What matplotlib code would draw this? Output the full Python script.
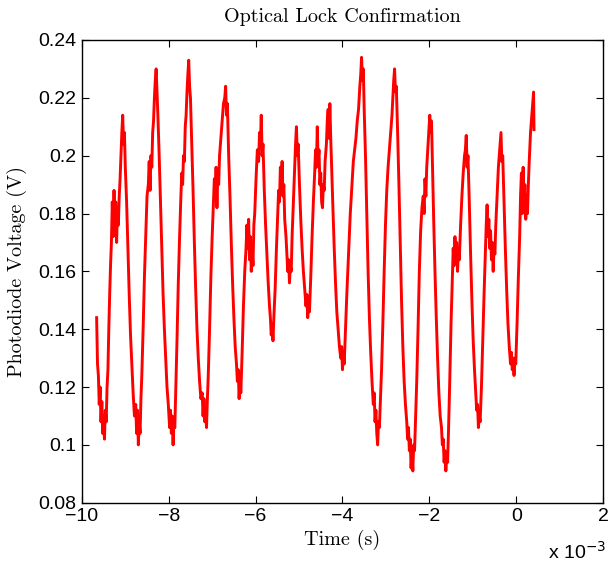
import matplotlib
matplotlib.use("Agg")
import matplotlib.pyplot as plt

fringe_1 = [
    (-9.66, 0.144), (-9.64, 0.128), (-9.62, 0.124), (-9.60, 0.114), (-9.58, 0.120),
    (-9.56, 0.108), (-9.54, 0.115), (-9.52, 0.104), (-9.50, 0.110), (-9.48, 0.102),
    (-9.46, 0.112), (-9.44, 0.108), (-9.42, 0.120), (-9.40, 0.126), (-9.38, 0.140),
    (-9.36, 0.152), (-9.34, 0.162), (-9.32, 0.170), (-9.30, 0.184), (-9.28, 0.172),
    (-9.26, 0.188), (-9.24, 0.174), (-9.22, 0.184), (-9.20, 0.170), (-9.18, 0.182),
    (-9.16, 0.176), (-9.14, 0.186), (-9.12, 0.192), (-9.10, 0.200), (-9.08, 0.208),
    (-9.06, 0.214), (-9.04, 0.204), (-9.02, 0.208), (-9.00, 0.196), (-8.97, 0.184),
    (-8.94, 0.168), (-8.91, 0.152), (-8.88, 0.138), (-8.85, 0.128), (-8.82, 0.118),
    (-8.79, 0.110), (-8.76, 0.114), (-8.74, 0.104), (-8.72, 0.112), (-8.70, 0.100),
    (-8.68, 0.108), (-8.66, 0.104), (-8.64, 0.116), (-8.62, 0.124), (-8.59, 0.140),
    (-8.56, 0.158), (-8.53, 0.172), (-8.50, 0.186), (-8.47, 0.190), (-8.45, 0.198),
    (-8.43, 0.188), (-8.41, 0.200), (-8.39, 0.196), (-8.37, 0.208), (-8.35, 0.212),
    (-8.33, 0.220), (-8.31, 0.226), (-8.29, 0.230), (-8.27, 0.222), (-8.25, 0.214),
]
fringe_2 = [
    (-8.22, 0.200), (-8.19, 0.184), (-8.16, 0.168), (-8.13, 0.152), (-8.10, 0.140),
    (-8.07, 0.130), (-8.04, 0.120), (-8.01, 0.114), (-7.98, 0.106), (-7.96, 0.112),
    (-7.94, 0.104), (-7.92, 0.110), (-7.90, 0.100), (-7.88, 0.108), (-7.86, 0.106),
    (-7.84, 0.118), (-7.81, 0.136), (-7.78, 0.156), (-7.75, 0.172), (-7.72, 0.186),
    (-7.70, 0.194), (-7.68, 0.190), (-7.66, 0.200), (-7.64, 0.198), (-7.62, 0.210),
    (-7.60, 0.214), (-7.58, 0.222), (-7.56, 0.228), (-7.54, 0.233), (-7.52, 0.224),
    (-7.50, 0.220), (-7.47, 0.204), (-7.44, 0.188), (-7.41, 0.170), (-7.38, 0.154),
    (-7.35, 0.140), (-7.32, 0.130), (-7.29, 0.122), (-7.26, 0.116), (-7.23, 0.118),
    (-7.21, 0.110), (-7.19, 0.116), (-7.17, 0.108), (-7.15, 0.112), (-7.13, 0.106),
    (-7.11, 0.116), (-7.09, 0.124), (-7.06, 0.140), (-7.03, 0.158), (-7.00, 0.172),
    (-6.97, 0.184), (-6.95, 0.192), (-6.93, 0.186), (-6.91, 0.196), (-6.89, 0.182),
    (-6.87, 0.194), (-6.85, 0.190), (-6.83, 0.200), (-6.80, 0.206), (-6.77, 0.212),
    (-6.74, 0.218), (-6.71, 0.220), (-6.69, 0.224), (-6.67, 0.214), (-6.65, 0.218),
]
fringe_3 = [
    (-6.62, 0.200), (-6.59, 0.186), (-6.56, 0.170), (-6.53, 0.156), (-6.50, 0.144),
    (-6.47, 0.134), (-6.44, 0.128), (-6.42, 0.122), (-6.40, 0.126), (-6.38, 0.116),
    (-6.36, 0.122), (-6.34, 0.118), (-6.31, 0.132), (-6.28, 0.148), (-6.25, 0.160),
    (-6.22, 0.168), (-6.20, 0.176), (-6.18, 0.168), (-6.16, 0.178), (-6.14, 0.164),
    (-6.12, 0.172), (-6.10, 0.160), (-6.08, 0.168), (-6.06, 0.162), (-6.04, 0.176),
    (-6.02, 0.180), (-5.99, 0.192), (-5.96, 0.202), (-5.93, 0.198), (-5.91, 0.208),
    (-5.89, 0.204), (-5.87, 0.214), (-5.85, 0.200), (-5.83, 0.204), (-5.80, 0.188),
    (-5.77, 0.176), (-5.74, 0.166), (-5.71, 0.156), (-5.68, 0.148), (-5.66, 0.144),
    (-5.64, 0.138), (-5.62, 0.142), (-5.60, 0.136), (-5.58, 0.144), (-5.55, 0.154),
    (-5.52, 0.168), (-5.49, 0.180), (-5.47, 0.188), (-5.45, 0.184), (-5.43, 0.196),
    (-5.41, 0.188), (-5.39, 0.198), (-5.37, 0.186), (-5.35, 0.190), (-5.33, 0.178),
    (-5.30, 0.172), (-5.28, 0.166), (-5.26, 0.160), (-5.24, 0.164), (-5.22, 0.156),
    (-5.20, 0.162), (-5.18, 0.160), (-5.16, 0.172), (-5.13, 0.184), (-5.10, 0.196),
    (-5.08, 0.204), (-5.06, 0.210), (-5.04, 0.200), (-5.02, 0.204),
]
fringe_4 = [
    (-4.99, 0.190), (-4.96, 0.178), (-4.93, 0.168), (-4.90, 0.160), (-4.87, 0.154),
    (-4.84, 0.148), (-4.82, 0.152), (-4.80, 0.144), (-4.78, 0.150), (-4.76, 0.146),
    (-4.73, 0.158), (-4.70, 0.172), (-4.67, 0.184), (-4.64, 0.194), (-4.62, 0.202),
    (-4.60, 0.196), (-4.58, 0.210), (-4.56, 0.198), (-4.54, 0.202), (-4.52, 0.190),
    (-4.50, 0.194), (-4.48, 0.184), (-4.46, 0.182), (-4.44, 0.190), (-4.42, 0.188),
    (-4.40, 0.198), (-4.37, 0.204), (-4.35, 0.212), (-4.33, 0.216), (-4.31, 0.206),
    (-4.29, 0.218), (-4.27, 0.206), (-4.25, 0.196), (-4.22, 0.182), (-4.19, 0.168),
    (-4.16, 0.156), (-4.13, 0.146), (-4.10, 0.140), (-4.07, 0.134), (-4.04, 0.130),
    (-4.02, 0.134), (-4.00, 0.126), (-3.98, 0.132), (-3.96, 0.128), (-3.93, 0.140),
    (-3.90, 0.152), (-3.86, 0.166), (-3.82, 0.180), (-3.78, 0.190), (-3.75, 0.198),
    (-3.72, 0.202), (-3.69, 0.206), (-3.66, 0.212), (-3.63, 0.216), (-3.60, 0.224),
    (-3.58, 0.228), (-3.56, 0.234), (-3.54, 0.226), (-3.52, 0.230), (-3.50, 0.216),
]
fringe_5 = [
    (-3.47, 0.200), (-3.44, 0.180), (-3.41, 0.160), (-3.38, 0.144), (-3.35, 0.132),
    (-3.32, 0.122), (-3.29, 0.114), (-3.27, 0.118), (-3.25, 0.108), (-3.23, 0.112),
    (-3.21, 0.104), (-3.19, 0.100), (-3.17, 0.108), (-3.15, 0.106), (-3.13, 0.114),
    (-3.10, 0.126), (-3.07, 0.142), (-3.04, 0.160), (-3.01, 0.176), (-2.98, 0.188),
    (-2.95, 0.196), (-2.92, 0.202), (-2.89, 0.208), (-2.86, 0.214), (-2.84, 0.220),
    (-2.82, 0.226), (-2.80, 0.230), (-2.78, 0.222), (-2.76, 0.224), (-2.73, 0.208),
    (-2.70, 0.190), (-2.67, 0.170), (-2.64, 0.150), (-2.61, 0.134), (-2.58, 0.122),
    (-2.55, 0.114), (-2.52, 0.108), (-2.50, 0.102), (-2.48, 0.106), (-2.46, 0.098),
    (-2.44, 0.102), (-2.42, 0.092), (-2.40, 0.098), (-2.38, 0.091), (-2.36, 0.100),
    (-2.34, 0.098), (-2.32, 0.108), (-2.29, 0.122), (-2.26, 0.140), (-2.23, 0.160),
    (-2.20, 0.174), (-2.17, 0.182), (-2.14, 0.186), (-2.12, 0.180), (-2.10, 0.192),
    (-2.08, 0.186), (-2.06, 0.196), (-2.03, 0.204), (-2.01, 0.210), (-1.99, 0.214),
    (-1.97, 0.208), (-1.95, 0.212), (-1.93, 0.198),
]
fringe_6 = [
    (-1.90, 0.178), (-1.87, 0.160), (-1.84, 0.144), (-1.81, 0.130), (-1.78, 0.118),
    (-1.75, 0.110), (-1.72, 0.106), (-1.70, 0.100), (-1.68, 0.102), (-1.66, 0.094),
    (-1.64, 0.098), (-1.62, 0.091), (-1.60, 0.096), (-1.58, 0.094), (-1.56, 0.104),
    (-1.53, 0.122), (-1.50, 0.142), (-1.47, 0.158), (-1.45, 0.168), (-1.43, 0.162),
    (-1.41, 0.172), (-1.39, 0.164), (-1.37, 0.170), (-1.35, 0.160), (-1.33, 0.168),
    (-1.31, 0.164), (-1.28, 0.176), (-1.25, 0.186), (-1.22, 0.194), (-1.19, 0.200),
    (-1.17, 0.202), (-1.15, 0.207), (-1.13, 0.196), (-1.11, 0.200), (-1.08, 0.184),
    (-1.05, 0.166), (-1.02, 0.150), (-0.99, 0.136), (-0.96, 0.126), (-0.93, 0.118),
    (-0.91, 0.112), (-0.89, 0.114), (-0.87, 0.106), (-0.85, 0.110), (-0.83, 0.108),
    (-0.80, 0.120), (-0.77, 0.136), (-0.74, 0.152), (-0.71, 0.166), (-0.69, 0.176),
    (-0.67, 0.183), (-0.65, 0.172), (-0.63, 0.178), (-0.61, 0.168), (-0.59, 0.174),
    (-0.57, 0.164), (-0.55, 0.170), (-0.53, 0.160), (-0.51, 0.168), (-0.49, 0.166),
    (-0.47, 0.176), (-0.44, 0.186), (-0.41, 0.196), (-0.39, 0.200), (-0.37, 0.204),
    (-0.35, 0.208), (-0.33, 0.198), (-0.31, 0.200),
]
fringe_7 = [
    (-0.28, 0.184), (-0.25, 0.168), (-0.22, 0.154), (-0.19, 0.142), (-0.16, 0.134),
    (-0.13, 0.128), (-0.11, 0.132), (-0.09, 0.126), (-0.07, 0.130), (-0.05, 0.124),
    (-0.03, 0.130), (-0.01, 0.128), (0.02, 0.142), (0.05, 0.158), (0.08, 0.172),
    (0.10, 0.186), (0.12, 0.194), (0.14, 0.180), (0.16, 0.196), (0.18, 0.184),
    (0.20, 0.190), (0.22, 0.178), (0.24, 0.186), (0.26, 0.180), (0.28, 0.190),
    (0.30, 0.198), (0.33, 0.208), (0.36, 0.214), (0.38, 0.218), (0.40, 0.222),
    (0.41, 0.209),
]

x_ticks = [-10, -8, -6, -4, -2, 0, 2]
y_ticks = [0.08, 0.1, 0.12, 0.14, 0.16, 0.18, 0.2, 0.22, 0.24]

samples = fringe_1 + fringe_2 + fringe_3 + fringe_4 + fringe_5 + fringe_6 + fringe_7
t_ms = [s[0] for s in samples]
volts = [s[1] for s in samples]

plt.rcParams["font.family"] = ["Liberation Sans", "DejaVu Sans"]

fig = plt.figure(figsize=(6.11, 5.63), dpi=100)
ax = fig.add_axes([0.134, 0.107, 0.853, 0.822])

ax.plot(t_ms, volts, color="red", linewidth=2.1)

ax.set_xlim(-10, 2)
ax.set_ylim(0.08, 0.24)
ax.set_xticks(x_ticks)
ax.set_yticks(y_ticks)
ax.set_xticklabels([str(v).replace("-", "\u2212") for v in x_ticks])
ax.set_yticklabels([f"{v:g}" for v in y_ticks])
ax.tick_params(direction="in", top=True, right=True, labelsize=14, length=5, width=0.8, pad=4)
for sp in ax.spines.values():
    sp.set_linewidth(1.0)

ax.set_title("Optical Lock Confirmation", family="cmr10", fontsize=14.5, pad=13)
ax.set_xlabel("Time (s)", family="cmr10", fontsize=14.5, labelpad=3)
ax.set_ylabel("Photodiode Voltage (V)", family="cmr10", fontsize=14.5, labelpad=8)
fig.text(0.992, 0.0, r"x 10$^{-3}$", ha="right", va="bottom", fontsize=14)

fig.savefig("out.png", dpi=100)
